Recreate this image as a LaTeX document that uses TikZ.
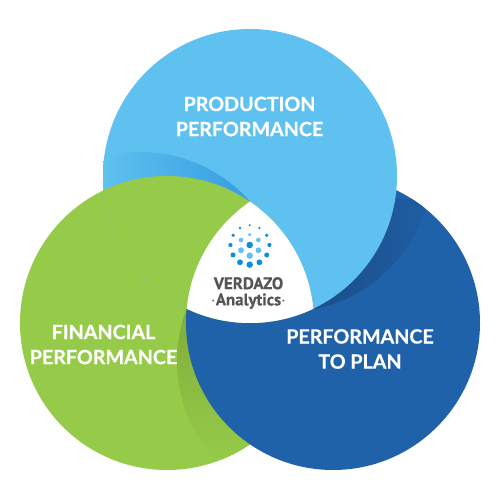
\documentclass[tikz,border=0pt]{standalone}
\usepackage{xcolor}
\usepackage{fontspec}
\usetikzlibrary{calc}
\setmainfont[BoldFeatures={FakeBold=0.5}]{Lato}
\newfontfamily\logofont[BoldFeatures={FakeBold=0.3}]{PT Sans}
\definecolor{prodblue}{HTML}{5FC1EF}
\definecolor{proddark}{HTML}{359DE0}
\definecolor{fingreen}{HTML}{95CB48}
\definecolor{findark}{HTML}{80AC3C}
\definecolor{planblue}{HTML}{1F62AA}
\definecolor{plandark}{HTML}{1B4C87}
\definecolor{planmid}{HTML}{1E5DA2}
\definecolor{dotdark}{HTML}{0B8FD6}
\definecolor{logogrey}{HTML}{555555}

\begin{document}
\begin{tikzpicture}[
      x=0.02cm, y=0.02cm,
      circletext/.style={text=white, font=\bfseries\fontsize{11.2}{14.3}\selectfont, align=center, inner sep=0pt},
      logotext/.style={text=logogrey, font=\logofont\bfseries\fontsize{9.6}{9.2}\selectfont, align=center, inner sep=0pt}
    ]
      \useasboundingbox (0,0) rectangle (500,500);
      \coordinate (prod) at (250,324);
      \coordinate (fin) at (167,177);
      \coordinate (plan) at (333,177);
      \coordinate (logo) at (249.7,255);

      % green circle and its shade
      \fill[fingreen] (fin) circle (147);
      \begin{scope}
        \clip (fin) circle (147);
        \clip (324,139) circle (147);
        \shade[top color=findark, bottom color=fingreen] (170,190) rectangle (260,40);
      \end{scope}

      % dark blue circle and its shade
      \fill[planblue] (plan) circle (147);
      \begin{scope}
        \clip (plan) circle (147);
        \clip (285,335) circle (147);
        \shade[left color=plandark, right color=planmid] (305,170) rectangle (425,300);
      \end{scope}

      % light blue circle and its shade
      \fill[prodblue] (prod) circle (147);
      \begin{scope}
        \clip (prod) circle (147);
        \clip (140,201) circle (147);
        \shade[left color=prodblue, right color=proddark] (103,290) rectangle (250,350);
      \end{scope}

      % green lies over light blue
      \begin{scope}
        \clip (prod) circle (147);
        \fill[fingreen] (fin) circle (147);
      \end{scope}

      % white middle
      \begin{scope}
        \clip (prod) circle (147);
        \clip (fin) circle (147);
        \fill[white] (plan) circle (147);
      \end{scope}

      % logo dots
      \foreach \dx/\dy/\rad in {0/10.3/1.7, -8.7/5/2.3, 8.7/5/2.3, -8.7/-5.3/2.9, 8.7/-5.3/2.9, 0/-10.7/3.2}
        \fill[prodblue] ($(logo)+(\dx,\dy)$) circle (\rad);
      \foreach \dx/\dy/\rad in {0/0/3.3, 0/19.7/1.1, -9.7/17/1.3, 9.7/17/1.3, -16.5/9.7/1.8, 17/9.7/1.8, -19.3/0/2.1, 19.7/0/2.1, -16.7/-10/2.5, 17/-10/2.5, -9.7/-17.3/2.9, 9.7/-17.3/2.9, 0/-19.7/3.2}
        \fill[dotdark] ($(logo)+(\dx,\dy)$) circle (\rad);

      \node[logotext] (verdazo) at (248.5,207) {VERDAZO\\$\cdot$Analytics$\cdot$};

      \node[circletext] (production) at (249.5,383.5) {PRODUCTION\\PERFORMANCE};
      \node[circletext] (financial) at (103.5,155.5) {FINANCIAL\\PERFORMANCE};
      \node[circletext] (toplan) at (360,151) {PERFORMANCE\\TO PLAN};
    \end{tikzpicture}
\end{document}
